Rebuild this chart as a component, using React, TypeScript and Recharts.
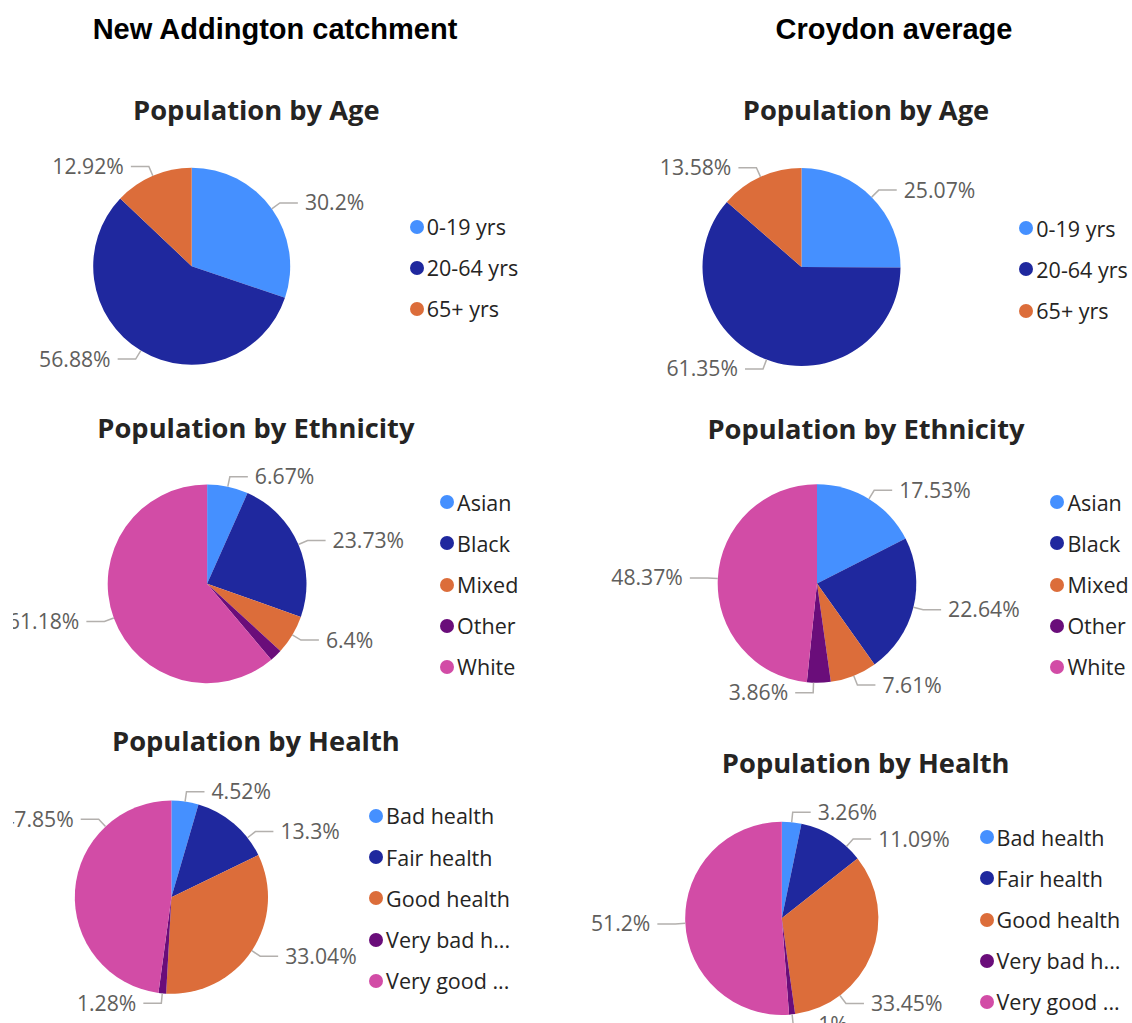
import React from 'react';
import { PieChart, Pie, Cell, Legend } from 'recharts';

// slice colours (Power BI default-ish palette as seen in the screenshot)
const COLORS = ['#4590ff', '#1f289e', '#dc6d3a', '#6a0d7a', '#d24ca6'];

const ageCategories = ['0-19 yrs', '20-64 yrs', '65+ yrs'];
const ageNewAddington = [30.2, 56.88, 12.92];
const ageCroydon = [25.07, 61.35, 13.58];

const ethnicityCategories = ['Asian', 'Black', 'Mixed', 'Other', 'White'];
const ethnicityNewAddington = [6.67, 23.73, 6.4, 2.02, 61.18];
const ethnicityCroydon = [17.53, 22.64, 7.61, 3.86, 48.37];

const healthCategories = ['Bad health', 'Fair health', 'Good health', 'Very bad health', 'Very good health'];
const healthNewAddington = [4.52, 13.3, 33.04, 1.28, 47.85];
const healthCroydon = [3.26, 11.09, 33.45, 1, 51.2];

const columnHeaders = ['New Addington catchment', 'Croydon average'];

const LABEL_FONT = '"Open Sans", "Noto Sans", sans-serif';
const ROW_STEP = 41.2;

type PanelDef = {
  key: string;
  title: string;
  categories: string[];
  values: number[];
  box: { left: number; top: number; width: number; height: number };
  center: [number, number];
  r: number;
  titleX: number;
  titleBase: number;
  legend: { x: number; y: number };
  angles?: Record<number, number>; // label anchor nudges (Power BI moves some labels)
  hidden?: number[];
};

const panels: PanelDef[] = [
  {
    key: 'na-age', title: 'Population by Age', categories: ageCategories, values: ageNewAddington,
    box: { left: 13, top: 60, width: 553, height: 335 }, center: [191.7, 266.2], r: 98.5,
    titleX: 256.3, titleBase: 119.6, legend: { x: 416.7, y: 226.7 },
  },
  {
    key: 'cr-age', title: 'Population by Age', categories: ageCategories, values: ageCroydon,
    box: { left: 566, top: 60, width: 566, height: 335 }, center: [801.5, 267], r: 99,
    titleX: 866, titleBase: 119.6, legend: { x: 1026.3, y: 228.3 },
  },
  {
    key: 'na-eth', title: 'Population by Ethnicity', categories: ethnicityCategories, values: ethnicityNewAddington,
    box: { left: 13, top: 395, width: 553, height: 320 }, center: [207.1, 583.8], r: 99.4,
    titleX: 255.9, titleBase: 437.9, legend: { x: 447.1, y: 502.3 }, hidden: [3],
  },
  {
    key: 'cr-eth', title: 'Population by Ethnicity', categories: ethnicityCategories, values: ethnicityCroydon,
    box: { left: 566, top: 395, width: 566, height: 320 }, center: [817, 583.5], r: 99.3,
    titleX: 866, titleBase: 438.9, legend: { x: 1057.4, y: 502.3 }, angles: { 3: -92 },
  },
  {
    key: 'na-health', title: 'Population by Health', categories: healthCategories, values: healthNewAddington,
    box: { left: 13, top: 715, width: 553, height: 308 }, center: [171.4, 897.2], r: 96.6,
    titleX: 255.9, titleBase: 751.3, legend: { x: 376.1, y: 816 }, angles: { 1: 38, 4: 133 },
  },
  {
    key: 'cr-health', title: 'Population by Health', categories: healthCategories, values: healthCroydon,
    box: { left: 566, top: 735, width: 566, height: 288 }, center: [781.8, 918.3], r: 96.6,
    titleX: 865.7, titleBase: 772.9, legend: { x: 986.5, y: 837.3 }, angles: { 1: 48, 2: -53, 4: 183 },
  },
];

// Power BI cuts long legend entries: "Very good health" -> "Very good ..."
const shortName = (s: string) => (s.length > 12 ? s.slice(0, 10) + '...' : s);

function makeLabel(p: PanelDef) {
  return (props: any) => {
    const { cx, cy, midAngle, outerRadius, index, value } = props;
    if (p.hidden && p.hidden.includes(index)) return null;
    const ang = p.angles && p.angles[index] !== undefined ? p.angles[index] : midAngle;
    const rad = (Math.PI / 180) * ang;
    const cos = Math.cos(rad);
    const sin = Math.sin(rad);
    const x0 = cx + outerRadius * cos;
    const y0 = cy - outerRadius * sin;
    const x1 = cx + (outerRadius + 10) * cos;
    const y1 = cy - (outerRadius + 10) * sin;
    const dir = cos >= 0 ? 1 : -1;
    const x2 = x1 + dir * 18;
    return (
      <g key={`lbl-${index}`}>
        <polyline points={`${x0},${y0} ${x1},${y1} ${x2},${y1}`} fill="none" stroke="#b3b0ad" strokeWidth={1.5} />
        <text
          x={x2 + dir * 7}
          y={y1 + 7.5}
          textAnchor={dir > 0 ? 'start' : 'end'}
          fill="#605e5c"
          fontSize={21.2}
          fontFamily={LABEL_FONT}
        >
          {`${value}%`}
        </text>
      </g>
    );
  };
}

function Panel({ p }: { p: PanelDef }) {
  const data = p.categories.map((name, i) => ({ name, value: p.values[i] }));
  const legendLeft = p.legend.x - 7 - p.box.left;
  const legendTop = p.legend.y - ROW_STEP / 2 - p.box.top;
  return (
    <div style={{ position: 'absolute', left: p.box.left, top: p.box.top, width: p.box.width, height: p.box.height, overflow: 'hidden' }}>
      <PieChart width={p.box.width} height={p.box.height} margin={{ top: 0, right: 0, bottom: 0, left: 0 }}>
        <Pie
          data={data}
          dataKey="value"
          nameKey="name"
          cx={p.center[0] - p.box.left}
          cy={p.center[1] - p.box.top}
          outerRadius={p.r}
          startAngle={90}
          endAngle={-270}
          stroke="none"
          label={makeLabel(p)}
          labelLine={false}
          isAnimationActive={false}
        >
          {data.map((_, i) => (
            <Cell key={`cell-${i}`} fill={COLORS[i % COLORS.length]} />
          ))}
        </Pie>
        <Legend
          layout="vertical"
          align="right"
          verticalAlign="top"
          wrapperStyle={{ left: legendLeft, top: legendTop, right: 'auto', width: 200 }}
          content={() => (
            <div>
              {p.categories.map((c, i) => (
                <div key={c} style={{ display: 'flex', alignItems: 'center', height: ROW_STEP }}>
                  <span style={{ width: 14, height: 14, borderRadius: 7, background: COLORS[i], flex: 'none' }} />
                  <span style={{ marginLeft: 3, fontFamily: LABEL_FONT, fontSize: 21.5, color: '#252423', whiteSpace: 'nowrap', lineHeight: `${ROW_STEP}px` }}>
                    {shortName(c)}
                  </span>
                </div>
              ))}
            </div>
          )}
        />
      </PieChart>
    </div>
  );
}

export default function App() {
  return (
    <div style={{ position: 'absolute', left: 0, top: 0, width: 1132, height: 1023, overflow: 'hidden', background: '#ffffff' }}>
      {panels.map((p) => (
        <Panel key={p.key} p={p} />
      ))}
      <svg width={1132} height={1023} style={{ position: 'absolute', left: 0, top: 0, pointerEvents: 'none' }}>
        <text x={275} y={39.2} textAnchor="middle" fontFamily='"Liberation Sans", Arial, sans-serif' fontWeight="bold" fontSize={29} fill="#000">
          {columnHeaders[0]}
        </text>
        <text x={894} y={39.2} textAnchor="middle" fontFamily='"Liberation Sans", Arial, sans-serif' fontWeight="bold" fontSize={29} fill="#000">
          {columnHeaders[1]}
        </text>
        {panels.map((p) => (
          <text key={`t-${p.key}`} x={p.titleX} y={p.titleBase} textAnchor="middle" fontFamily={LABEL_FONT} fontWeight="bold" fontSize={27.3} fill="#252423">
            {p.title}
          </text>
        ))}
      </svg>
    </div>
  );
}
